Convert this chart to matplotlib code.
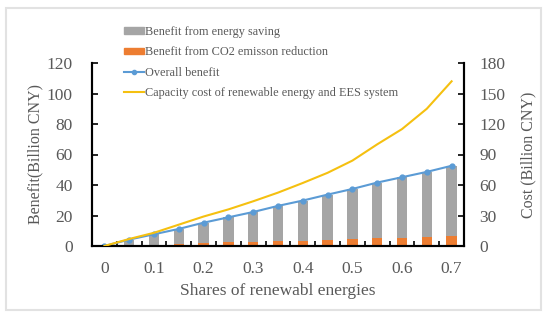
import matplotlib
matplotlib.use("Agg")
import matplotlib.pyplot as plt
from matplotlib.patches import Rectangle
from matplotlib.lines import Line2D
import numpy as np

shares = [0, 0.05, 0.1, 0.15, 0.2, 0.25, 0.3, 0.35, 0.4, 0.45, 0.5, 0.55, 0.6, 0.65, 0.7]
overall_benefit = [0, 4.2, 7.7, 11.2, 15.3, 18.8, 22.3, 26.3, 29.8, 33.7, 37.4, 41.6, 45.1, 48.6, 52.6]
co2_benefit = [0, 0.4, 0.9, 1.3, 2.0, 2.4, 2.8, 3.1, 3.5, 3.9, 4.4, 5.0, 5.5, 5.7, 6.6]
energy_saving = [o - c for o, c in zip(overall_benefit, co2_benefit)]
capacity_cost = [0, 6.9, 13, 21, 29, 36, 44, 52.5, 62, 72, 84, 100, 115, 135, 162]
xtick_labels = ["0", "0.1", "0.2", "0.3", "0.4", "0.5", "0.6", "0.7"]
left_ticks = [0, 20, 40, 60, 80, 100, 120]
right_ticks = [0, 30, 60, 90, 120, 150, 180]

plt.rcParams['font.family'] = ['Liberation Serif', 'DejaVu Serif']
TXT = '#595959'
GRAY = '#A5A5A5'
ORANGE = '#ED7D31'
BLUE = '#5B9BD5'
YELLOW = '#F5C010'

fig = plt.figure(figsize=(5.5, 3.24), dpi=100)
ax = fig.add_axes([92/550, 1-246/324, (464-92)/550, (246-63)/324])
ax2 = ax.twinx()

x = np.arange(len(shares))
w = 0.42
ax.bar(x, co2_benefit, width=w, color=ORANGE, zorder=2)
ax.bar(x, energy_saving, width=w, bottom=co2_benefit, color=GRAY, zorder=2)
ax.plot(x, overall_benefit, color=BLUE, lw=1.5, marker='o', ms=3.5, zorder=3)
ax2.plot(x, capacity_cost, color=YELLOW, lw=1.5, zorder=4)

ax.set_xlim(-0.5, len(shares) - 0.5)
ax.set_ylim(0, 120)
ax2.set_ylim(0, 180)
ax.set_yticks(left_ticks)
ax2.set_yticks(right_ticks)
ax.set_xticks(x[::2])
ax.set_xticklabels(xtick_labels)
ax.set_xticks(np.arange(-0.5, len(shares), 1.0), minor=True)
ax.tick_params(axis='x', which='major', length=0, pad=11, labelsize=12.5, labelcolor=TXT)
ax.tick_params(axis='x', which='minor', direction='in', length=3.5, width=1.2, color='black')
ax.tick_params(axis='y', direction='in', length=4, width=1.2, labelsize=12.5, labelcolor=TXT, pad=14)
ax2.tick_params(axis='y', direction='in', length=4, width=1.2, labelsize=12.5, labelcolor=TXT, pad=11)

for a in (ax, ax2):
    a.spines['top'].set_visible(False)
    for s in ('left', 'right', 'bottom'):
        a.spines[s].set_linewidth(1.5)
        a.spines[s].set_color('black')

ax.set_xlabel("Shares of renewabl energies", fontsize=12.5, color=TXT, labelpad=4)
ax.set_ylabel("Benefit(Billion CNY)", fontsize=11.5, color=TXT, labelpad=2)
ax2.set_ylabel("Cost (Billion CNY)", fontsize=11.5, color=TXT, labelpad=11)

handles = [
    Rectangle((0, 0), 1, 1, color=GRAY),
    Rectangle((0, 0), 1, 1, color=ORANGE),
    Line2D([], [], color=BLUE, lw=1.5, marker='o', ms=3),
    Line2D([], [], color=YELLOW, lw=1.5),
]
labels = ["Benefit from energy saving", "Benefit from CO2 emisson reduction",
          "Overall benefit", "Capacity cost of renewable energy and EES system"]
leg = fig.legend(handles, labels, loc='upper left', bbox_to_anchor=(124/550, 1-26/324),
                 frameon=False, fontsize=8.8, handlelength=1.6, handleheight=0.45,
                 handletextpad=0.15, labelspacing=0.68, borderpad=0, borderaxespad=0)
for t in leg.get_texts():
    t.set_color(TXT)

fig.patches.append(Rectangle((6/550, 1-310/324), (541-6)/550, (310-8)/324,
                             transform=fig.transFigure, fill=False,
                             edgecolor='#E2E2E2', lw=1.5))

fig.savefig("out.png", dpi=100)
